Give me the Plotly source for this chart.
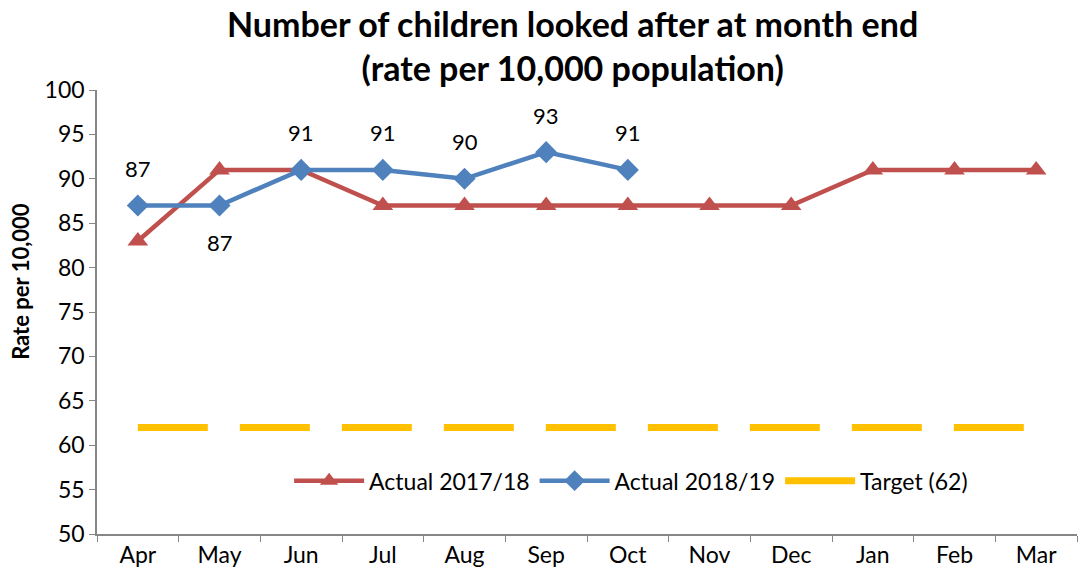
import plotly.graph_objects as go

months = ["Apr", "May", "Jun", "Jul", "Aug", "Sep", "Oct", "Nov", "Dec", "Jan", "Feb", "Mar"]
actual_2017_18 = [83, 91, 91, 87, 87, 87, 87, 87, 87, 91, 91, 91]
actual_2018_19 = [87, 87, 91, 91, 90, 93, 91]
target = [62] * 12
label_above_2018_19 = [True, False, True, True, True, True, True]

FONT = "Lato, 'Open Sans', sans-serif"
RED = "#C0504D"
BLUE = "#4F81BD"
GOLD = "#FFC000"

fig = go.Figure()

fig.add_trace(go.Scatter(
    x=months, y=actual_2017_18, name="Actual 2017/18",
    mode="lines+markers",
    line=dict(color=RED, width=4.5),
    marker=dict(symbol="triangle-up", size=18, color=RED),
))

fig.add_trace(go.Scatter(
    x=months[:len(actual_2018_19)], y=actual_2018_19, name="Actual 2018/19",
    mode="lines+markers",
    line=dict(color=BLUE, width=4.5),
    marker=dict(symbol="diamond", size=17, color=BLUE),
))

fig.add_trace(go.Scatter(
    x=months, y=target, name="Target (62)",
    mode="lines",
    line=dict(color=GOLD, width=7, dash="70px,32px"),
))

# value labels for the 2018/19 series
for m, v, above in zip(months, actual_2018_19, label_above_2018_19):
    fig.add_annotation(
        x=m, y=v, text=str(v), showarrow=False,
        yshift=37 if above else -37,
        font=dict(size=22, family=FONT, color="black"),
    )

# chart title
fig.add_annotation(
    xref="paper", yref="paper", x=0.485, y=1.2, xanchor="center", yanchor="top",
    text="<b>Number of children looked after at month end<br>(rate per 10,000 population)</b>",
    showarrow=False, align="center",
    font=dict(size=34, family=FONT, color="black"),
)

# y-axis title
fig.add_annotation(
    xref="paper", yref="paper", x=-0.0775, y=0.568, xanchor="center", yanchor="middle",
    text="<b>Rate per 10,000</b>", textangle=-90, showarrow=False,
    font=dict(size=22, family=FONT, color="black"),
)

fig.update_layout(
    width=1084, height=586,
    margin=dict(l=97, r=7, t=90, b=52),
    paper_bgcolor="white", plot_bgcolor="white",
    font=dict(family=FONT, size=22, color="black"),
    showlegend=True,
    legend=dict(
        orientation="h", x=0.545, xanchor="center", y=0.12, yanchor="middle",
        font=dict(size=23, family=FONT), bgcolor="rgba(0,0,0,0)",
        itemwidth=70, traceorder="normal",
    ),
)

fig.update_xaxes(
    type="category", range=[-0.5, 11.5],
    showline=True, linecolor="#868686", linewidth=1.5,
    ticks="outside", tickson="boundaries", ticklen=6, tickcolor="#868686",
    showgrid=False, tickfont=dict(size=23),
)

fig.update_yaxes(
    range=[50, 100], dtick=5, tick0=50,
    showline=True, linecolor="#868686", linewidth=1.5,
    ticks="outside", ticklen=6, tickcolor="#868686",
    showgrid=False, zeroline=False, tickfont=dict(size=23),
)

fig.write_html("out.html")
